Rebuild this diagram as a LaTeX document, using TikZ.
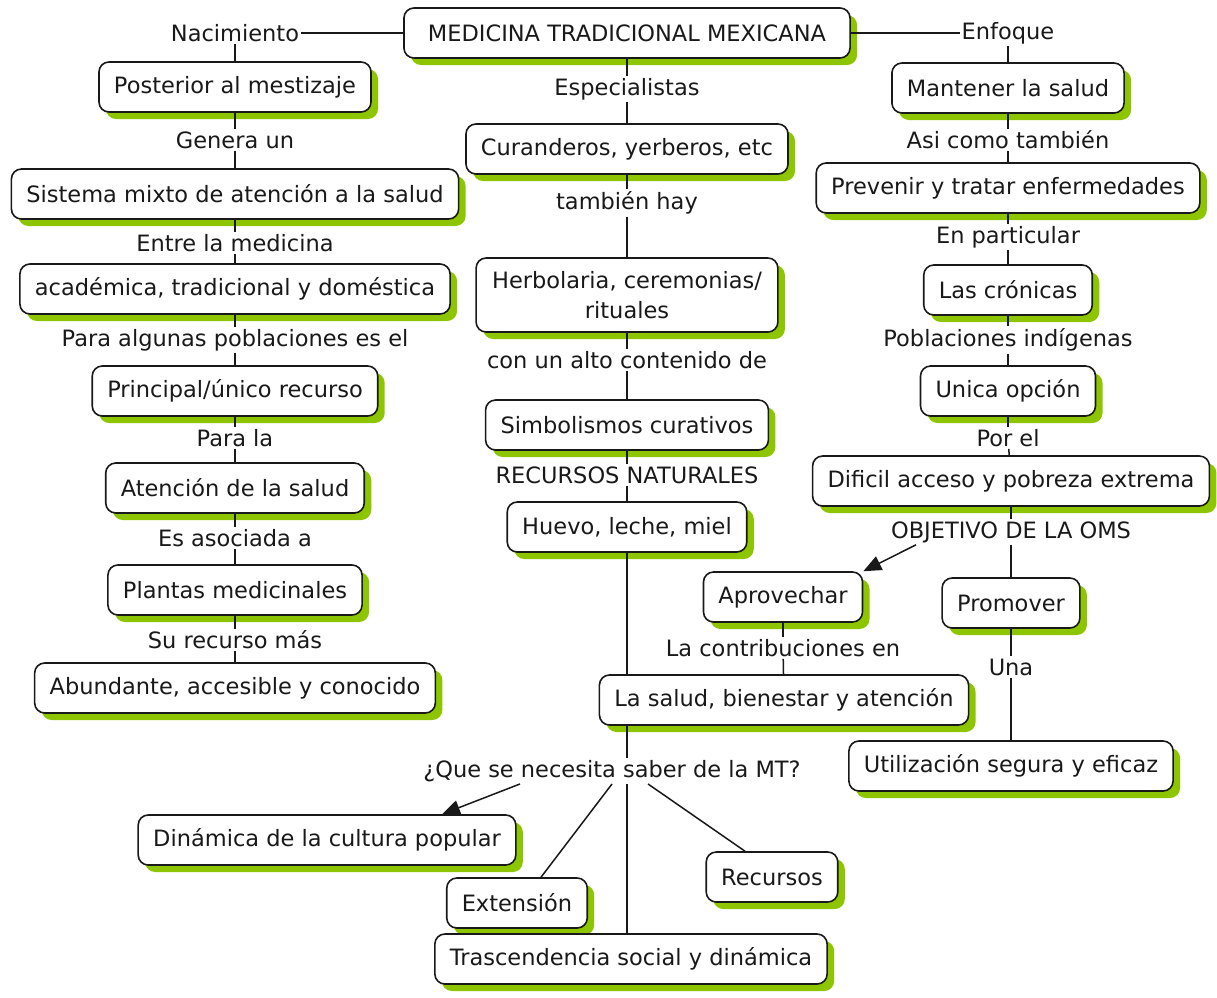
\documentclass[tikz,border=0pt]{standalone}
\usepackage{fontspec}
\setmainfont{DejaVu Sans}
\usetikzlibrary{shadows,arrows.meta}
\definecolor{cmapgreen}{RGB}{141,198,0}
\definecolor{ink}{RGB}{25,25,25}
\tikzset{
  concept/.style={draw=ink, fill=white, rounded corners=10pt, line width=1.6pt,
    inner xsep=15pt, minimum height=50pt, text=ink,
    drop shadow={shadow xshift=7pt, shadow yshift=-7pt, fill=cmapgreen, opacity=1}},
  phrase/.style={inner sep=2pt, text=ink},
  link/.style={draw=ink, line width=1.5pt},
  linkarrow/.style={link, -{Triangle[length=18pt,width=15pt]}}
}
\begin{document}
\begin{tikzpicture}[x=1pt,y=-1pt,font=\fontsize{22.5}{27}\selectfont]
        \useasboundingbox (0,0) rectangle (1217,997);
        % Central concept
        \node[concept, inner xsep=24pt] (medicina) at (627,33) {MEDICINA TRADICIONAL MEXICANA};
        \node[phrase] (nacimiento) at (235,33) {Nacimiento};
        \node[phrase] (enfoque) at (1008,33) {Enfoque};
        % Left column
        \node[concept] (posterior) at (235,87) {Posterior al mestizaje};
        \node[phrase] (genera) at (235,140) {Genera un};
        \node[concept] (sistema) at (235,194) {Sistema mixto de atención a la salud};
        \node[phrase] (entre) at (235,243) {Entre la medicina};
        \node[concept] (academica) at (235,289) {académica, tradicional y doméstica};
        \node[phrase] (poblac) at (235,340) {Para algunas poblaciones es el};
        \node[concept] (principal) at (235,391) {Principal/único recurso};
        \node[phrase] (parala) at (235,438) {Para la};
        \node[concept] (atencion) at (235,488) {Atención de la salud};
        \node[phrase] (asociada) at (235,538) {Es asociada a};
        \node[concept] (plantas) at (235,590) {Plantas medicinales};
        \node[phrase] (surecurso) at (235,640) {Su recurso más};
        \node[concept] (abundante) at (235,688) {Abundante, accesible y conocido};
        % Middle column
        \node[phrase] (especial) at (627,89) {Especialistas};
        \node[concept] (curanderos) at (627,149) {Curanderos, yerberos, etc};
        \node[phrase] (tambien) at (627,203) {también hay};
        \node[concept, align=center, minimum height=74pt, inner xsep=16pt,
          font=\fontsize{22.5}{30}\selectfont] (herbolaria) at (627,295) {Herbolaria, ceremonias/\\rituales};
        \node[phrase] (contenido) at (627,360) {con un alto contenido de};
        \node[concept] (simbolismos) at (627,425) {Simbolismos curativos};
        \node[phrase] (recnat) at (627,475) {RECURSOS NATURALES};
        \node[concept] (huevo) at (627,527) {Huevo, leche, miel};
        % Right column
        \node[concept] (mantener) at (1008,88) {Mantener la salud};
        \node[phrase] (asicomo) at (1008,140) {Asi como también};
        \node[concept] (prevenir) at (1008,188) {Prevenir y tratar enfermedades};
        \node[phrase] (particular) at (1008,237) {En particular};
        \node[concept] (cronicas) at (1008,290) {Las crónicas};
        \node[phrase] (indigenas) at (1008,340) {Poblaciones indígenas};
        \node[concept] (unica) at (1008,391) {Unica opción};
        \node[phrase] (porel) at (1008,438) {Por el};
        \node[concept] (dificil) at (1011,481) {Dificil acceso y pobreza extrema};
        \node[phrase] (objetivo) at (1011,532) {OBJETIVO DE LA OMS};
        \node[concept] (aprovechar) at (783,597) {Aprovechar};
        \node[concept] (promover) at (1011,603) {Promover};
        \node[phrase] (contrib) at (783,648) {La contribuciones en};
        \node[phrase] (una) at (1011,667) {Una};
        \node[concept] (salud) at (784,700) {La salud, bienestar y atención};
        \node[concept] (utilizacion) at (1011,766) {Utilización segura y eficaz};
        % Bottom part
        \node[phrase] (necesita) at (612,771) {¿Que se necesita saber de la MT?};
        \node[concept] (dinamica) at (327,840) {Dinámica de la cultura popular};
        \node[concept] (extension) at (517,903) {Extensión};
        \node[concept] (recursos) at (772,877) {Recursos};
        \node[concept] (trascend) at (631,959) {Trascendencia social y dinámica};
        % Links
        \draw[link] (nacimiento) -- (medicina) -- (enfoque);
        \draw[link] (nacimiento) -- (posterior);
        \draw[link] (enfoque) -- (mantener);
        \foreach \a/\b in {posterior/genera, genera/sistema, sistema/entre, entre/academica,
            academica/poblac, poblac/principal, principal/parala, parala/atencion,
            atencion/asociada, asociada/plantas, plantas/surecurso, surecurso/abundante,
            medicina/especial, especial/curanderos, curanderos/tambien, tambien/herbolaria,
            herbolaria/contenido, contenido/simbolismos, simbolismos/recnat, recnat/huevo,
            mantener/asicomo, asicomo/prevenir, prevenir/particular, particular/cronicas,
            cronicas/indigenas, indigenas/unica, unica/porel, porel/dificil,
            dificil/objetivo, objetivo/promover, promover/una, una/utilizacion,
            aprovechar/contrib, contrib/salud}
          \draw[link] (\a) -- (\b);
        \draw[linkarrow] ([xshift=-95pt]objetivo.south) -- (aprovechar.north east);
        \draw[link] (huevo.south) -- (huevo.south |- salud.north);
        \draw[link] (salud.south -| huevo.south) -- (necesita.north -| huevo.south);
        \draw[link] (necesita.south -| huevo.south) -- (trascend.north -| huevo.south);
        \draw[linkarrow] ([xshift=-92pt]necesita.south) -- ([xshift=115pt]dinamica.north);
        \draw[link] ([xshift=0pt]necesita.south) -- ([xshift=24pt]extension.north);
        \draw[link] ([xshift=36pt]necesita.south) -- ([xshift=-27pt]recursos.north);
    \end{tikzpicture}
\end{document}
